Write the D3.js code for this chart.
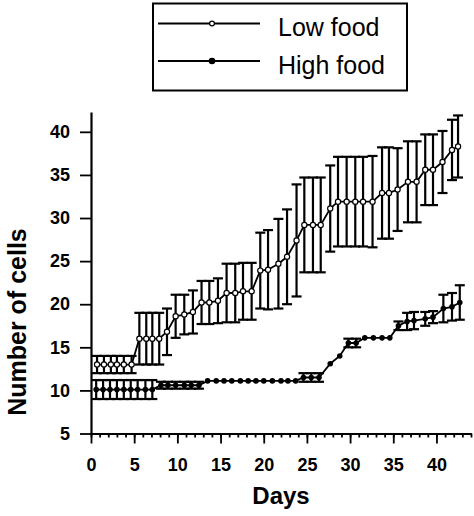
<!DOCTYPE html>
<html>
<head>
<meta charset="utf-8">
<script src="https://cdn.jsdelivr.net/npm/d3@7"></script>
<style>
  html, body { margin: 0; padding: 0; background: #fff; }
  svg { display: block; }
  text { font-family: "Liberation Sans", Arial, Helvetica, sans-serif; fill: #000; }
</style>
</head>
<body>
<svg id="chart" width="474" height="516"></svg>
<script>
// ---- data ----
const lowDays = [0.7,1.5,2.3,3.0,3.8,4.7,5.6,6.4,7.1,7.9,8.8,9.8,10.8,11.8,12.8,13.7,14.7,15.7,16.7,17.6,18.6,19.6,20.5,21.7,22.7,23.8,24.7,25.7,26.6,27.7,28.6,29.6,30.6,31.5,32.6,33.7,34.5,35.5,36.7,37.7,38.7,39.6,40.7,41.8,42.5];
const lowMean = [13.0,13.0,13.0,13.0,13.0,13.0,16.0,16.0,16.0,16.0,16.8,18.6,18.8,19.1,20.2,20.2,20.4,21.3,21.3,21.5,21.5,23.9,24.0,24.7,25.5,27.4,29.2,29.2,29.2,31.1,31.9,31.9,31.9,31.9,31.9,32.9,32.9,33.3,34.2,34.2,35.6,35.6,36.5,37.9,38.3];
const lowSD   = [1.0,1.0,1.0,1.0,1.0,1.0,3.0,3.0,3.0,3.0,2.7,2.5,2.3,2.5,2.5,2.5,2.6,3.4,3.4,3.3,3.3,4.4,4.6,5.2,5.5,6.5,5.5,5.5,5.5,5.0,5.2,5.2,5.2,5.2,5.3,5.3,5.3,4.8,4.7,4.7,4.1,4.1,3.6,3.5,3.6];

const highDays = [0.6,1.4,2.2,3.0,3.8,4.6,5.4,6.3,7.1,8.1,8.9,9.8,10.8,11.6,12.5,13.5,14.5,15.4,16.3,17.3,18.2,19.1,20.0,21.0,22.0,22.8,23.7,24.6,25.5,26.4,27.7,28.8,29.8,30.7,31.7,32.7,33.7,34.6,35.6,36.6,37.4,38.7,39.6,40.8,41.8,42.7];
const highMean = [10.1,10.1,10.1,10.1,10.1,10.1,10.1,10.1,10.1,10.6,10.6,10.6,10.6,10.6,10.6,11.1,11.1,11.1,11.1,11.1,11.1,11.1,11.1,11.1,11.1,11.1,11.1,11.5,11.5,11.5,13.1,14.0,15.5,15.5,16.1,16.1,16.1,16.1,17.5,18.0,18.1,18.3,18.5,19.5,19.7,20.2];
const highSD   = [1.1,1.1,1.1,1.1,1.1,1.1,1.1,1.1,1.1,0.4,0.4,0.4,0.4,0.4,0.4,0,0,0,0,0,0,0,0,0,0,0,0,0.5,0.5,0.5,0,0,0.5,0.5,0,0,0,0,0.5,1.0,1.0,0.8,0.7,1.6,1.6,2.0];

const xMajorTicks = [0,5,10,15,20,25,30,35,40];
const yTicks = [5,10,15,20,25,30,35,40];
const seriesNames = ["Low food", "High food"];

// ---- chart ----
const svg = d3.select("#chart");
const x = d3.scaleLinear().domain([0, 44]).range([91, 471]);
const y = d3.scaleLinear().domain([5, 42.3]).range([433.5, 112]);

const low = lowDays.map((d, i) => ({ d, m: lowMean[i], s: lowSD[i] }));
const high = highDays.map((d, i) => ({ d, m: highMean[i], s: highSD[i] }));

// axes
const xMinor = d3.axisBottom(x).tickValues(d3.range(0, 45, 1)).tickSize(4).tickSizeOuter(0).tickFormat("");
const xMajor = d3.axisBottom(x).tickValues(xMajorTicks).tickSize(10).tickSizeOuter(0).tickPadding(14.5);
const yAx = d3.axisLeft(y).tickValues(yTicks).tickSize(11).tickSizeOuter(0).tickPadding(10);

const gxMinor = svg.append("g").attr("transform", "translate(0,433.5)").call(xMinor);
const gx = svg.append("g").attr("transform", "translate(0,433.5)").call(xMajor);
const gy = svg.append("g").attr("transform", `translate(${x(0)},0)`).call(yAx);

[gxMinor, gx, gy].forEach(g => {
  g.selectAll("path.domain").attr("stroke", "#000").attr("stroke-width", 2.2);
  g.selectAll(".tick line").attr("stroke", "#000").attr("stroke-width", 1.8);
});
gx.selectAll(".tick text").style("font-size", "18px").style("font-weight", "bold")
  .style("font-family", '"Liberation Sans", Arial, sans-serif').attr("fill", "#000");
gy.selectAll(".tick text").style("font-size", "18px").style("font-weight", "bold")
  .style("font-family", '"Liberation Sans", Arial, sans-serif').attr("fill", "#000");

// axis titles
svg.append("text").attr("x", 281).attr("y", 504).attr("text-anchor", "middle")
  .style("font-size", "24px").style("font-weight", "bold").text("Days");
svg.append("text").attr("transform", "translate(26,322) rotate(-90)").attr("text-anchor", "middle")
  .style("font-size", "25px").style("font-weight", "bold").text("Number of cells");

// error bars
function drawErr(data) {
  const g = svg.append("g").attr("stroke", "#000").attr("stroke-width", 2.2).attr("fill", "none");
  data.filter(p => p.s > 0).forEach(p => {
    const cx = x(p.d), yt = y(p.m + p.s), yb = y(p.m - p.s), hw = 5;
    g.append("line").attr("x1", cx).attr("x2", cx).attr("y1", yt).attr("y2", yb);
    g.append("line").attr("x1", cx - hw).attr("x2", cx + hw).attr("y1", yt).attr("y2", yt);
    g.append("line").attr("x1", cx - hw).attr("x2", cx + hw).attr("y1", yb).attr("y2", yb);
  });
}
drawErr(low);
drawErr(high);

const line = d3.line().x(p => x(p.d)).y(p => y(p.m));
svg.append("path").datum(low).attr("d", line).attr("fill", "none").attr("stroke", "#000").attr("stroke-width", 1.8);
svg.append("path").datum(high).attr("d", line).attr("fill", "none").attr("stroke", "#000").attr("stroke-width", 1.8);

svg.append("g").selectAll("circle").data(low).join("circle")
  .attr("cx", p => x(p.d)).attr("cy", p => y(p.m)).attr("r", 2.6)
  .attr("fill", "#fff").attr("stroke", "#000").attr("stroke-width", 1.2);
svg.append("g").selectAll("circle").data(high).join("circle")
  .attr("cx", p => x(p.d)).attr("cy", p => y(p.m)).attr("r", 2.8)
  .attr("fill", "#000");

// legend
const lg = svg.append("g");
lg.append("rect").attr("x", 153).attr("y", 3.5).attr("width", 254).attr("height", 87)
  .attr("fill", "#fff").attr("stroke", "#000").attr("stroke-width", 2);
seriesNames.forEach((name, i) => {
  const ly = 23.5 + i * 37.5;
  lg.append("line").attr("x1", 158).attr("x2", 260).attr("y1", ly).attr("y2", ly)
    .attr("stroke", "#000").attr("stroke-width", 2);
  lg.append("circle").attr("cx", 212).attr("cy", ly).attr("r", i === 0 ? 2.4 : 2.7)
    .attr("fill", i === 0 ? "#fff" : "#000").attr("stroke", "#000").attr("stroke-width", 1.2);
  lg.append("text").attr("x", 278).attr("y", ly + 12.5).style("font-size", "25px").text(name);
});
</script>
</body>
</html>
